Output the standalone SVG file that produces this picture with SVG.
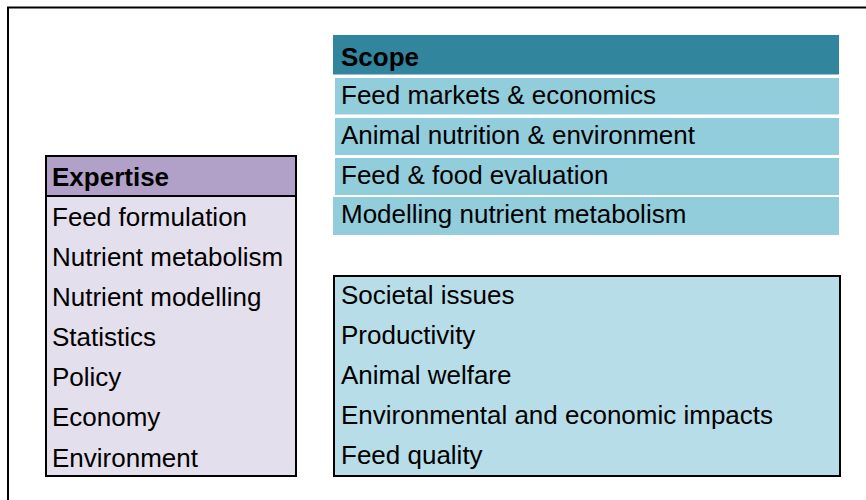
<svg xmlns="http://www.w3.org/2000/svg" width="866" height="500" viewBox="0 0 866 500">
  <style>
    .t { font-family: "Liberation Sans", Arial, sans-serif; font-size: 25px; fill: #000; }
    .b { font-weight: bold; }
    .frame { fill: none; stroke: #000; stroke-width: 2; }
    .box { stroke: #000; stroke-width: 2; }
    .scopeRow { fill: #92cddc; }
  </style>
  <rect width="866" height="500" fill="#fff"/>
  <g id="frame">
    <path class="frame" d="M8,500 V7.5 H866"/>
  </g>

  <g id="scope">
    <rect x="333" y="35" width="506" height="39.5" fill="#31859c"/>
    <rect class="scopeRow" x="335" y="78" width="504" height="36.5"/>
    <rect class="scopeRow" x="335" y="118" width="504" height="37"/>
    <rect class="scopeRow" x="335" y="158" width="504" height="37"/>
    <rect class="scopeRow" x="333" y="197" width="506" height="38"/>
    <g transform="translate(341,0) scale(1.04,1)">
      <text class="t b" x="0" y="66.5">Scope</text>
      <text class="t" x="0" y="104">Feed markets &amp; economics</text>
      <text class="t" x="0" y="144">Animal nutrition &amp; environment</text>
      <text class="t" x="0" y="184">Feed &amp; food evaluation</text>
      <text class="t" x="0" y="223.5">Modelling nutrient metabolism</text>
    </g>
  </g>

  <g id="expertise">
    <rect x="46" y="156" width="250" height="320" fill="#e4dfec"/>
    <rect x="46" y="156" width="250" height="40" fill="#b1a0c7"/>
    <rect class="box" x="46" y="156" width="250" height="320" fill="none"/>
    <line x1="46" y1="196" x2="296" y2="196" stroke="#000" stroke-width="2"/>
    <g transform="translate(52,0) scale(1.04,1)">
      <text class="t b" x="0" y="186">Expertise</text>
      <text class="t" x="0" y="226.5">Feed formulation</text>
      <text class="t" x="0" y="266.5">Nutrient metabolism</text>
      <text class="t" x="0" y="306.5">Nutrient modelling</text>
      <text class="t" x="0" y="346.5">Statistics</text>
      <text class="t" x="0" y="386.5">Policy</text>
      <text class="t" x="0" y="426.5">Economy</text>
      <text class="t" x="0" y="467">Environment</text>
    </g>
  </g>

  <g id="issues">
    <rect class="box" x="334" y="276" width="506" height="200" fill="#b7dee8"/>
    <g transform="translate(341,0) scale(1.04,1)">
      <text class="t" x="0" y="304.5">Societal issues</text>
      <text class="t" x="0" y="344.5">Productivity</text>
      <text class="t" x="0" y="384.5">Animal welfare</text>
      <text class="t" x="0" y="424.5">Environmental and economic impacts</text>
      <text class="t" x="0" y="464">Feed quality</text>
    </g>
  </g>

  <g id="connectors"/>
</svg>
